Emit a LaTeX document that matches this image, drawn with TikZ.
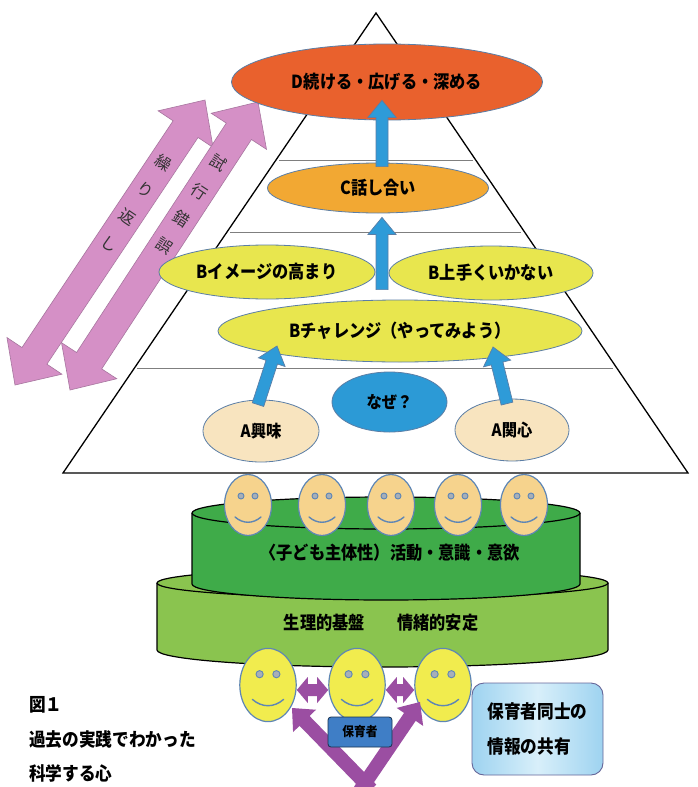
\documentclass[tikz,border=0pt]{standalone}
\usepackage{fontspec}
\newfontfamily\jp{Noto Sans CJK JP}
\newfontfamily\jpn{Noto Sans CJK JP}[FakeStretch=0.9]
\usetikzlibrary{shapes.geometric,calc}

\definecolor{topred}{HTML}{E9612D}
\definecolor{midorange}{HTML}{F2A833}
\definecolor{byellow}{HTML}{E8E64E}
\definecolor{whyblue}{HTML}{2C9AD6}
\definecolor{apeach}{HTML}{F8E4BF}
\definecolor{edgeblue}{HTML}{5B7EA6}
\definecolor{arrowblue}{HTML}{2E9BD8}
\definecolor{pinkfill}{HTML}{D590C6}
\definecolor{pinkedge}{HTML}{A7769F}
\definecolor{greentop}{HTML}{3FAB49}
\definecolor{greenbase}{HTML}{8AC44F}
\definecolor{kidfill}{HTML}{F6D38D}
\definecolor{adultfill}{HTML}{F1EC4E}
\definecolor{faceedge}{HTML}{5E86B5}
\definecolor{eyegray}{HTML}{A7AFB8}
\definecolor{linkpurple}{HTML}{9B4EA2}
\definecolor{teacherblue}{HTML}{3F7EC6}
\definecolor{notelight}{HTML}{D8EFFA}
\definecolor{notedark}{HTML}{9ED3F0}
\definecolor{layerline}{HTML}{7F7F7F}

% single block arrow: [style]{from}{to}{half shaft}{half head}{head length}
\newcommand\blockarrow[6][]{%
  \coordinate (bahead) at ($(#3)!#6!(#2)$);
  \path[#1] ($(#2)!#4!90:(#3)$) -- ($(bahead)!#4!90:(#3)$) -- ($(bahead)!#5!90:(#3)$)
    -- (#3) -- ($(bahead)!#5!-90:(#3)$) -- ($(bahead)!#4!-90:(#3)$)
    -- ($(#2)!#4!-90:(#3)$) -- cycle;}

% double block arrow: [style]{end a}{end b}{half shaft}{half head}{head length}
\newcommand\dblarrow[6][]{%
  \coordinate (daheada) at ($(#2)!#6!(#3)$);
  \coordinate (daheadb) at ($(#3)!#6!(#2)$);
  \path[#1] (#2) -- ($(daheada)!#5!90:(#3)$) -- ($(daheada)!#4!90:(#3)$)
    -- ($(daheadb)!#4!90:(#3)$) -- ($(daheadb)!#5!90:(#3)$) -- (#3)
    -- ($(daheadb)!#5!-90:(#3)$) -- ($(daheadb)!#4!-90:(#3)$)
    -- ($(daheada)!#4!-90:(#3)$) -- ($(daheada)!#5!-90:(#3)$) -- cycle;}

% smiling face: {name}{x}{y}{scale}{fill}
\newcommand\smiley[5]{%
  \node[face, fill=#5, minimum width=#4*47, minimum height=#4*61] (#1) at (#2,#3) {};
  \begin{scope}[shift={(#1.center)}, scale=#4]
    \draw[eye] (-7,-9) circle[radius=3];
    \draw[eye] (7,-9) circle[radius=3];
    \draw[smile] (-13,12) .. controls (-5,19) and (5,19) .. (13,12);
  \end{scope}}

\begin{document}
\begin{tikzpicture}[x=1pt,y=-1pt,
  bubble/.style={ellipse, draw=edgeblue, line width=0.8pt, inner sep=0pt,
    font=\jpn\bfseries\fontsize{18}{18}\selectfont},
  smallbubble/.style={bubble, font=\jpn\bfseries\fontsize{17}{17}\selectfont},
  layer/.style={draw=layerline, line width=1pt},
  pinkarrow/.style={fill=pinkfill, draw=pinkedge, line width=0.6pt},
  pinktext/.style={font=\jp\fontsize{16}{16}\selectfont, text=black!80, inner sep=0pt},
  bluearrow/.style={fill=arrowblue, draw=edgeblue, line width=0.7pt},
  linkarrow/.style={fill=linkpurple},
  cylinder edge/.style={draw=black, line width=1.2pt},
  cyltext/.style={font=\jpn\bfseries\fontsize{18}{18}\selectfont, inner sep=0pt},
  face/.style={ellipse, draw=faceedge, line width=1.2pt, inner sep=0pt},
  eye/.style={draw=faceedge, fill=eyegray, line width=0.9pt},
  smile/.style={draw=faceedge, line width=1.4pt, line cap=round},
  teacherbox/.style={draw=black!60!teacherblue, fill=teacherblue, rounded corners=3pt,
    line width=0.8pt, minimum width=64, minimum height=30, inner sep=0pt,
    font=\jpn\bfseries\fontsize{13}{13}\selectfont},
  notebox/.style={draw=gray!80!blue, line width=0.9pt, rounded corners=12pt,
    left color=notedark, right color=notedark, middle color=notelight,
    minimum width=131, minimum height=92, inner sep=0pt, align=left,
    font=\jpn\bfseries\fontsize{18.5}{35}\selectfont},
  caption/.style={anchor=west, inner sep=0pt, font=\jpn\bfseries\fontsize{18.5}{18.5}\selectfont}
]
\fill[white] (0,0) rectangle (697,787);
\useasboundingbox (0,0) rectangle (697,787);

% ---------- pyramid ----------
\coordinate (apex) at (376,13);
\coordinate (baseL) at (63,473);
\coordinate (baseR) at (688,473);
\draw[line width=1.3pt, fill=white] (apex) -- (baseR) -- (baseL) -- cycle;
\draw[layer] (279,160) -- (473,160);
\draw[layer] (230,232) -- (521,232);
\draw[layer] (137,368) -- (613,368);

% ---------- repetition / trial-and-error arrows ----------
\coordinate (r1a) at (15,385);
\coordinate (r1b) at (205,100);
\coordinate (r2a) at (70,390);
\coordinate (r2b) at (258,102);
\dblarrow[pinkarrow]{r1a}{r1b}{15pt}{33pt}{35pt}
\dblarrow[pinkarrow]{r2a}{r2b}{15pt}{33pt}{35pt}
\foreach \c/\t [count=\i] in {繰/0.78,り/0.685,返/0.59,し/0.495}
  \node[pinktext, rotate=-34] (rep\i) at ($(r1a)!\t!(r1b)$) {\c};
\foreach \c/\t [count=\i] in {試/0.79,行/0.69,錯/0.595,誤/0.5}
  \node[pinktext, rotate=-33] (trial\i) at ($(r2a)!\t!(r2b)$) {\c};

% ---------- stages ----------
\node[bubble, fill=topred, minimum width=311, minimum height=76] (D) at (387,82) {D続ける・広げる・深める};
\node[bubble, fill=midorange, minimum width=221, minimum height=50] (C) at (378,188) {C話し合い};
\node[bubble, fill=byellow, minimum width=216, minimum height=54] (Bimg) at (267,272) {Bイメージの高まり};
\node[bubble, fill=byellow, minimum width=204, minimum height=54] (Bfail) at (491,273) {B上手くいかない};
\node[bubble, fill=byellow, minimum width=364, minimum height=62] (Bch) at (400,331) {Bチャレンジ（やってみよう）};
\node[smallbubble, fill=whyblue, minimum width=115, minimum height=60] (why) at (389.5,402) {なぜ？};
\node[smallbubble, fill=apeach, minimum width=116, minimum height=62] (Aint) at (261,431) {A興味};
\node[smallbubble, fill=apeach, minimum width=114, minimum height=62] (Acon) at (512,430) {A関心};

% ---------- upward arrows ----------
\coordinate (cd0) at ($(C.north)+(4,4)$);
\coordinate (cd1) at ($(D.south)+(-5,-20)$);
\blockarrow[bluearrow]{cd0}{cd1}{6pt}{14pt}{17pt}
\coordinate (bc0) at ($(Bch.north)+(-18,-10)$);
\coordinate (bc1) at ($(C.south)+(4,4)$);
\blockarrow[bluearrow]{bc0}{bc1}{6pt}{14pt}{17pt}
\coordinate (ai0) at ($(Aint.north)+(-3,5)$);
\coordinate (ai1) at ($(Bch.center)+(-123,15)$);
\blockarrow[bluearrow]{ai0}{ai1}{6pt}{14pt}{17pt}
\coordinate (ac0) at ($(Acon.north)+(-5,5)$);
\coordinate (ac1) at ($(Bch.center)+(93,16)$);
\blockarrow[bluearrow]{ac0}{ac1}{6pt}{14pt}{17pt}

% ---------- foundation cylinders ----------
\path[fill=greenbase] (157,583) -- (157,650)
  arc[start angle=180, end angle=360, x radius=225.5pt, y radius=17pt]
  -- (608,583) arc[start angle=0, end angle=180, x radius=225.5pt, y radius=15pt] -- cycle;
\draw[cylinder edge] (157,583) -- (157,650)
  arc[start angle=180, end angle=360, x radius=225.5pt, y radius=17pt] -- (608,583);
\draw[cylinder edge, fill=greenbase] (382.5,583) ellipse[x radius=225.5pt, y radius=15pt];

\path[fill=greentop] (192,513) -- (192,584)
  arc[start angle=180, end angle=360, x radius=194pt, y radius=16pt]
  -- (580,513) arc[start angle=0, end angle=180, x radius=194pt, y radius=16pt] -- cycle;
\draw[cylinder edge] (192,513) -- (192,584)
  arc[start angle=180, end angle=360, x radius=194pt, y radius=16pt] -- (580,513);
\draw[cylinder edge, fill=greentop] (386,513) ellipse[x radius=194pt, y radius=16pt];

\node[cyltext] (will) at (390,553) {〈子ども主体性）活動・意識・意欲};
\node[cyltext] (basis) at (381,623) {生理的基盤　　情緒的安定};

% ---------- children ----------
\smiley{k1}{248}{505}{1}{kidfill}
\smiley{k2}{322}{505}{1}{kidfill}
\smiley{k3}{391}{505}{1}{kidfill}
\smiley{k4}{458}{505}{1}{kidfill}
\smiley{k5}{524}{505}{1}{kidfill}

% ---------- caregivers ----------
\smiley{f1}{268}{685}{1.2}{adultfill}
\smiley{f2}{357}{685}{1.2}{adultfill}
\smiley{f3}{443}{685}{1.2}{adultfill}

\coordinate (p1) at ($(f1.east)+(0,5)$);
\coordinate (p2) at ($(f2.west)+(0,5)$);
\dblarrow[linkarrow]{p1}{p2}{6pt}{13pt}{11pt}
\coordinate (p3) at ($(f2.east)+(0,5)$);
\coordinate (p4) at ($(f3.west)+(0,5)$);
\dblarrow[linkarrow]{p3}{p4}{6pt}{13pt}{11pt}

\coordinate (vB) at (365,783);
\coordinate (vL) at ($(f1.center)+(24,23)$);
\coordinate (vR) at ($(f3.center)+(-23,17)$);
\coordinate (vBl) at ($(vB)!-9pt!(vL)$);
\coordinate (vBr) at ($(vB)!-9pt!(vR)$);
\blockarrow[linkarrow]{vBl}{vL}{7pt}{16pt}{18pt}
\blockarrow[linkarrow]{vBr}{vR}{7pt}{16pt}{18pt}

\node[teacherbox] (teacher) at (360,732) {保育者};
\node[notebox] (note) at (537.5,729) {保育者同士の\\情報の共有};

% ---------- caption ----------
\node[caption] (fig) at (29,705) {図１};
\node[caption] (cap1) at (29,740) {過去の実践でわかった};
\node[caption] (cap2) at (29,773) {科学する心};
\end{tikzpicture}
\end{document}
